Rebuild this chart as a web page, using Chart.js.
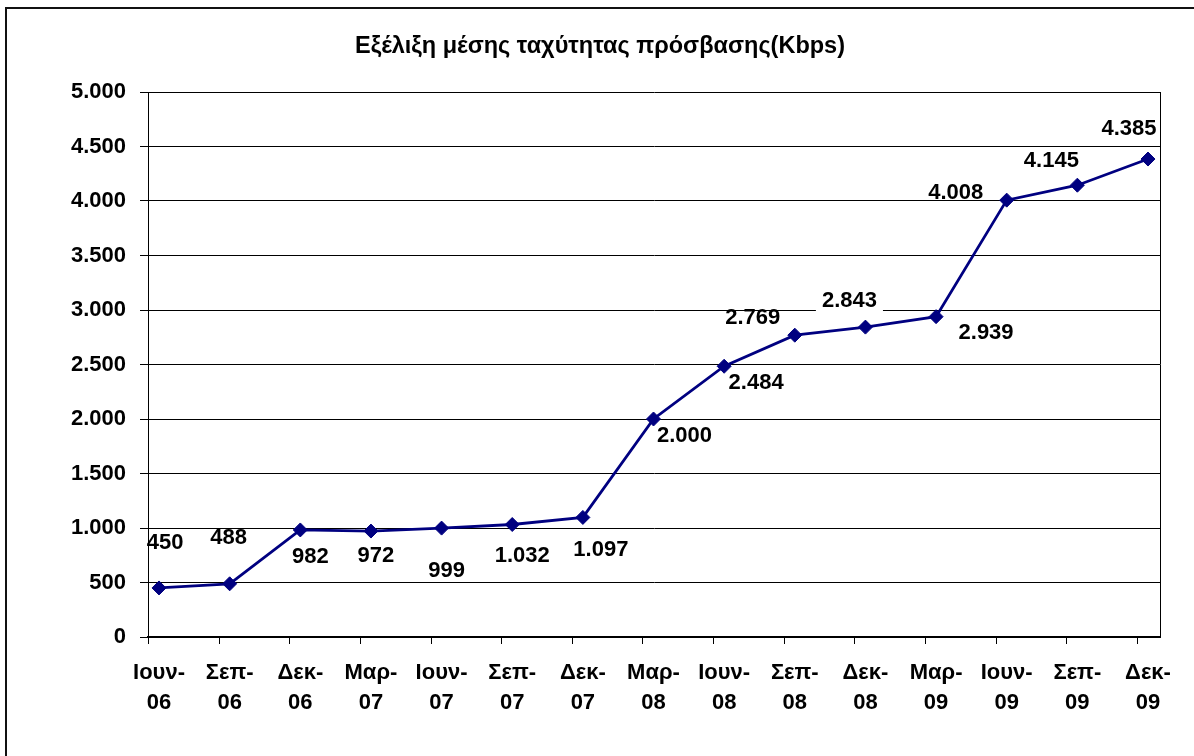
<!DOCTYPE html>
<html>
<head>
<meta charset="utf-8">
<script src="https://cdn.jsdelivr.net/npm/chart.js@4"></script>
<style>
  html, body { margin:0; padding:0; background:#fff; }
  canvas { display:block; }
</style>
</head>
<body>
<canvas id="ch_speed" width="1194" height="756"></canvas>
<script>
// data
const chartTitle = 'Εξέλιξη μέσης ταχύτητας πρόσβασης(Kbps)';
const periods = [
  ['Ιουν-','06'], ['Σεπ-','06'], ['Δεκ-','06'],
  ['Μαρ-','07'], ['Ιουν-','07'], ['Σεπ-','07'], ['Δεκ-','07'],
  ['Μαρ-','08'], ['Ιουν-','08'], ['Σεπ-','08'], ['Δεκ-','08'],
  ['Μαρ-','09'], ['Ιουν-','09'], ['Σεπ-','09'], ['Δεκ-','09']
];
const speedKbps = [450, 488, 982, 972, 999, 1032, 1097, 2000, 2484, 2769, 2843, 2939, 4008, 4145, 4385];
const yTicks = [0, 500, 1000, 1500, 2000, 2500, 3000, 3500, 4000, 4500, 5000];

const FONT = '"Liberation Sans", Arial, sans-serif';
const NAVY = '#000080';
const fmt = v => String(v).replace(/\B(?=(\d{3})+(?!\d))/g, '.');

// where each value label sits relative to its marker (px)
const labelOffsets = [
  [6,-45], [-1,-46], [10,27], [5,25], [5,43], [10,31], [18,33],
  [31,17], [32,17], [-42,-17], [-16,-26], [50,16], [-51,-7], [-26,-24], [-19,-30]
];
const boxedLabels = [10];

const frame = {
  id: 'frame',
  beforeDraw(c){
    const ctx = c.ctx;
    ctx.save(); ctx.fillStyle = '#fff'; ctx.fillRect(0, 0, c.width, c.height); ctx.restore();
  },
  afterDraw(c){
    const ctx = c.ctx, a = c.chartArea, xs = c.scales.x;
    ctx.save();
    // outer chart border (cut off at right/bottom)
    ctx.strokeStyle = '#111'; ctx.lineWidth = 2;
    ctx.strokeRect(6, 8, 1300, 900);
    // plot area right edge
    ctx.lineWidth = 1; ctx.strokeStyle = '#000';
    ctx.beginPath(); ctx.moveTo(a.right + 0.5, a.top); ctx.lineTo(a.right + 0.5, a.bottom); ctx.stroke();
    // category tick marks sit slightly left of each point
    ctx.beginPath();
    periods.forEach((_, i) => {
      const px = Math.round(xs.getPixelForValue(i - 0.156)) + 0.5;
      ctx.moveTo(px, a.bottom); ctx.lineTo(px, a.bottom + 7);
    });
    ctx.stroke();
    ctx.restore();
  }
};

const pointLabels = {
  id: 'pointLabels',
  afterDatasetsDraw(c){
    const ctx = c.ctx;
    const meta = c.getDatasetMeta(0);
    ctx.save();
    ctx.font = 'bold 22px ' + FONT;
    ctx.textAlign = 'center'; ctx.textBaseline = 'middle';
    meta.data.forEach((pt, i) => {
      const [dx, dy] = labelOffsets[i] || [0, -20];
      const x = pt.x + dx, y = pt.y + dy;
      const txt = fmt(speedKbps[i]);
      if (boxedLabels.includes(i)){
        const w = ctx.measureText(txt).width + 12;
        ctx.fillStyle = '#fff';
        ctx.fillRect(x - w/2, y - 14, w, 28);
      }
      ctx.fillStyle = '#000';
      ctx.fillText(txt, x, y);
    });
    ctx.restore();
  }
};

new Chart(document.getElementById('ch_speed'), {
  type: 'line',
  data: {
    datasets: [{
      label: 'Kbps',
      data: speedKbps.map((v, i) => ({ x:i, y:v })),
      borderColor: NAVY, backgroundColor: NAVY,
      borderWidth: 2.8, tension: 0,
      pointStyle: 'rectRot', pointRadius: 7, pointBorderWidth: 1,
      pointBackgroundColor: NAVY, pointBorderColor: NAVY
    }]
  },
  options: {
    responsive: false, animation: false, devicePixelRatio: 1,
    layout: { padding: { left:40, right:34, top:0, bottom:0 } },
    plugins: {
      legend: { display:false },
      tooltip: { enabled:false },
      title: {
        display: true, text: chartTitle, color: '#000',
        font: { family: FONT, size: 23.5, weight: 'bold', lineHeight: 1.2 },
        padding: { top: 32.9, bottom: 30.9 }
      }
    },
    scales: {
      x: {
        type: 'linear', min: -0.156, max: 14.17,
        afterBuildTicks: s => { s.ticks = periods.map((_, i) => ({ value:i })); },
        afterFit: s => { s.height = 119; },
        border: { display:true, color:'#000', width:2 },
        grid: { display:true, drawOnChartArea:false, color:'transparent', tickColor:'transparent', tickLength:6 },
        ticks: {
          autoSkip: false, maxRotation: 0, padding: 15, color: '#000',
          font: { family: FONT, size: 22, weight: 'bold', lineHeight: '30px' },
          callback: v => periods[v] || ''
        }
      },
      y: {
        min: 0, max: 5000,
        afterBuildTicks: s => { s.ticks = yTicks.map(v => ({ value:v })); },
        afterFit: s => { s.width = 108; },
        border: { display:true, color:'#000', width:1 },
        grid: { color:'#000', lineWidth:1, tickColor:'#000', tickLength:8 },
        ticks: {
          padding: 14, color: '#000',
          font: { family: FONT, size: 22, weight: 'bold' },
          callback: v => fmt(v)
        }
      }
    }
  },
  plugins: [frame, pointLabels]
});
</script>
</body>
</html>
